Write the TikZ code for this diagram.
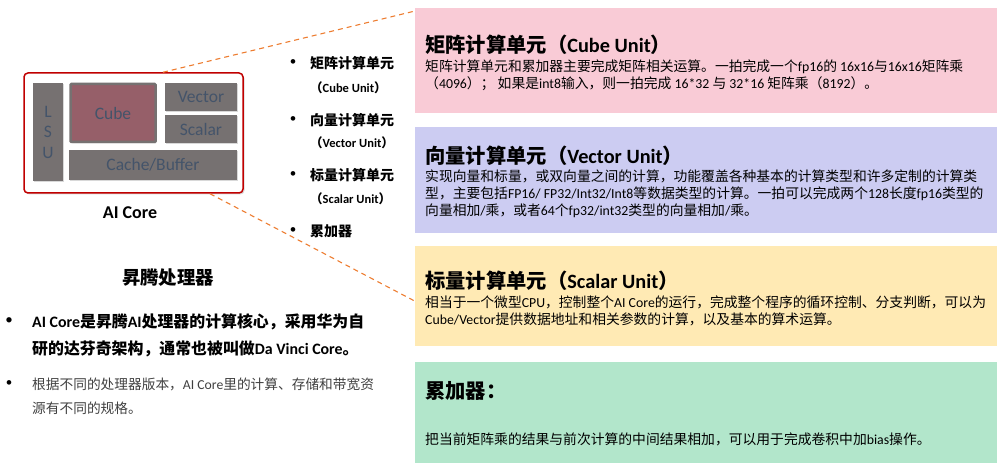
\documentclass[tikz,border=0pt]{standalone}
\usepackage{fontspec}
\usepackage{tikz}
\usetikzlibrary{calc,shadows}
\setmainfont{Carlito}
\newfontfamily\cjkfont{Noto Sans CJK SC}
\XeTeXinterchartokenstate=1
\newXeTeXintercharclass\cjkclass
\makeatletter
\count@="3000
\loop\ifnum\count@<"3040 \XeTeXcharclass\count@=\cjkclass \advance\count@ by 1 \repeat
\count@="4E00
\loop\ifnum\count@<"A000 \XeTeXcharclass\count@=\cjkclass \advance\count@ by 1 \repeat
\count@="FF00
\loop\ifnum\count@<"FF60 \XeTeXcharclass\count@=\cjkclass \advance\count@ by 1 \repeat
\makeatother
\XeTeXinterchartoks 0 \cjkclass = {\cjkfont}
\XeTeXinterchartoks 4095 \cjkclass = {\cjkfont}
\XeTeXinterchartoks \cjkclass 0 = {\rmfamily}
\XeTeXinterchartoks \cjkclass 4095 = {\rmfamily}
\definecolor{cubepink}{HTML}{F9CBD6}
\definecolor{vecpurple}{HTML}{CCCCF2}
\definecolor{scalaryellow}{HTML}{FFEAB4}
\definecolor{accgreen}{HTML}{B2E6CB}
\definecolor{blockgray}{HTML}{767171}
\definecolor{cubered}{HTML}{965F69}
\definecolor{blocktext}{HTML}{44546A}
\definecolor{corered}{HTML}{C00000}
\definecolor{linkorange}{HTML}{ED7D31}
\definecolor{softblack}{HTML}{404040}

\begin{document}
\begin{tikzpicture}[x=1pt,y=-1pt,
    gblock/.style={fill=blockgray,text=blocktext,inner sep=0pt,font=\fontsize{17.5}{20.5}\selectfont,
      drop shadow={opacity=0.3,shadow xshift=1pt,shadow yshift=-1.5pt}},
    infobox/.style={anchor=north west,minimum width=582pt,minimum height=#1,inner sep=0pt},
    boxtitle/.style={anchor=west,inner sep=0pt,font=\bfseries\fontsize{20.3}{22}\selectfont},
    boxbody/.style={anchor=north west,inner sep=0pt,align=left,font=\fontsize{13.8}{17}\selectfont},
    unititle/.style={anchor=west,inner sep=0pt,font=\bfseries\fontsize{14}{16}\selectfont},
    uniteng/.style={anchor=west,inner sep=0pt,font=\bfseries\fontsize{12.5}{14}\selectfont},
    dot/.style={inner sep=0pt,font=\fontsize{13}{14}\selectfont},
    link/.style={draw=linkorange,line width=1.1pt,dash pattern=on 5pt off 4pt}]
  \useasboundingbox (0,0) rectangle (1000,470);

  \node[infobox=105pt,fill=cubepink] (cubebox) at (415,8) {};
  \node[infobox=106pt,fill=vecpurple] (vecbox) at (415,127) {};
  \node[infobox=100pt,fill=scalaryellow] (scalarbox) at (415,246) {};
  \node[infobox=101pt,fill=accgreen] (accbox) at (415,362) {};

  \node[boxtitle] (cubetitle) at (425,45) {矩阵计算单元（Cube Unit）};
  \node[boxbody] (cubetext) at (425,60) {矩阵计算单元和累加器主要完成矩阵相关运算。一拍完成一个fp16的 16x16与16x16矩阵乘\\（4096）； 如果是int8输入，则一拍完成 16*32 与 32*16 矩阵乘（8192）。};
  \node[boxtitle] (vectitle) at (425,155.5) {向量计算单元（Vector Unit）};
  \node[boxbody] (vectext) at (425,169.5) {实现向量和标量，或双向量之间的计算，功能覆盖各种基本的计算类型和许多定制的计算类\\型，主要包括FP16/ FP32/Int32/Int8等数据类型的计算。一拍可以完成两个128长度fp16类型的\\向量相加/乘，或者64个fp32/int32类型的向量相加/乘。};
  \node[boxtitle] (scalartitle) at (425,281) {标量计算单元（Scalar Unit）};
  \node[boxbody] (scalartext) at (425,296) {相当于一个微型CPU，控制整个AI Core的运行，完成整个程序的循环控制、分支判断，可以为\\Cube/Vector提供数据地址和相关参数的计算，以及基本的算术运算。};
  \node[boxtitle] (acctitle) at (425,391) {累加器：};
  \node[boxbody] (acctext) at (425,433) {把当前矩阵乘的结果与前次计算的中间结果相加，可以用于完成卷积中加bias操作。};

  \node[draw=corered,line width=1.5pt,fill=white,rounded corners=4pt,minimum width=219pt,minimum height=120pt,
    drop shadow={opacity=0.3,shadow xshift=1.5pt,shadow yshift=-1.5pt}] (core) at (133.5,133) {};
  \node[gblock,minimum width=30pt,minimum height=98pt,align=center] (lsu) at (48,132) {L\\S\\U};
  \node[gblock,fill=cubered,draw=blockgray,line width=2.5pt,rounded corners=1pt,minimum width=85pt,minimum height=58pt] (cube) at (113,113) {Cube};
  \node[gblock,minimum width=72pt,minimum height=28pt] (vector) at (201,97) {Vector};
  \node[gblock,minimum width=72pt,minimum height=28pt] (scalar) at (201,129) {Scalar};
  \node[gblock,minimum width=168pt,minimum height=30pt] (cache) at (153,165) {Cache/Buffer};
  \node[font=\bfseries\fontsize{18}{20}\selectfont] (corename) at (130,213) {AI Core};

  \draw[link] ([xshift=29.5pt]core.north) -- ([yshift=-3pt]cubebox.north west);
  \draw[link] ([xshift=76.5pt]core.south) -- ([yshift=-5pt]scalarbox.west);

  \node[dot] (b1) at (293,63) {•};
  \node[unititle] (u1) at (310,63) {矩阵计算单元};
  \node[uniteng] (e1) at (310,88) {（Cube Unit）};
  \node[dot] (b2) at (293,120) {•};
  \node[unititle] (u2) at (310,120) {向量计算单元};
  \node[uniteng] (e2) at (310,143) {（Vector Unit）};
  \node[dot] (b3) at (293,175) {•};
  \node[unititle] (u3) at (310,175) {标量计算单元};
  \node[uniteng] (e3) at (310,199) {（Scalar Unit）};
  \node[dot] (b4) at (293,231) {•};
  \node[unititle] (u4) at (310,231) {累加器};

  \node[font=\bfseries\fontsize{18.4}{20}\selectfont] (chip) at (168,278) {昇腾处理器};
  \node[dot,font=\fontsize{15}{16}\selectfont] (p1) at (9,321) {•};
  \node[anchor=north west,inner sep=0pt,align=left,font=\bfseries\fontsize{15.9}{27}\selectfont] (point1) at (32,314) {AI Core是昇腾AI处理器的计算核心，采用华为自\\研的达芬奇架构，通常也被叫做Da Vinci Core。};
  \node[dot] (p2) at (9,384) {•};
  \node[anchor=north west,inner sep=0pt,align=left,text=softblack,font=\fontsize{13.7}{24}\selectfont] (point2) at (32,378) {根据不同的处理器版本，AI Core里的计算、存储和带宽资\\源有不同的规格。};
\end{tikzpicture}
\end{document}
